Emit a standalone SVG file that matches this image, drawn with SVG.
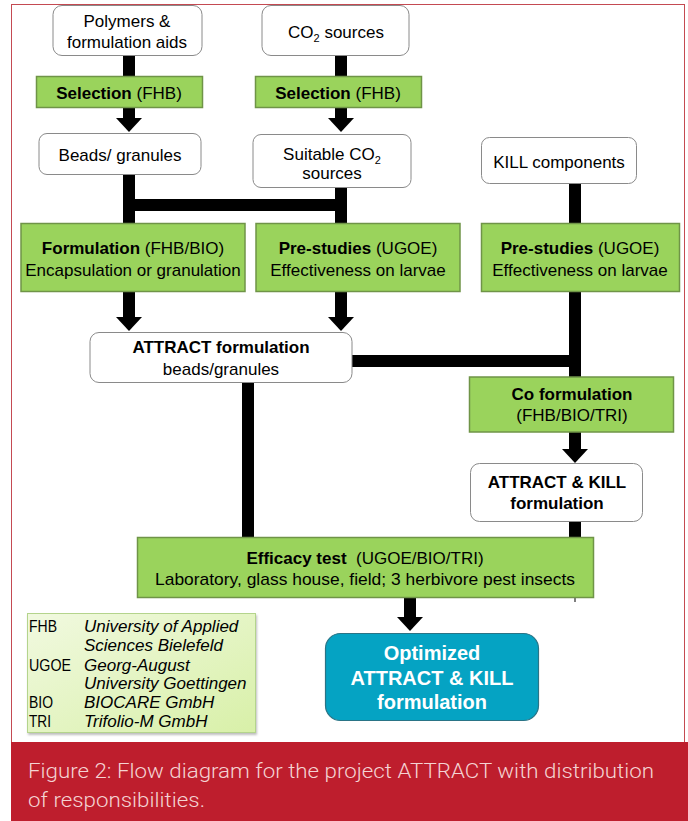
<svg xmlns="http://www.w3.org/2000/svg" width="688" height="821" viewBox="0 0 688 821">
<style>
text{font-family:"Liberation Sans",Arial,Helvetica,sans-serif;font-size:17px;fill:#000;text-anchor:middle}
.b{font-weight:bold}
.box{fill:#fff;stroke:#8a8a8a;stroke-width:1}
.grn{fill:#9ad35c;stroke:#6f9447;stroke-width:1.5}
.con{fill:none;stroke:#000;stroke-width:12}
.leg{text-anchor:start}
.it{font-style:italic}
.opt{fill:#fff;font-weight:bold;font-size:20px}
.cap{font-family:Roboto,"Liberation Sans",sans-serif;font-weight:300;font-size:21px;fill:#f4d3d3;text-anchor:start}
</style>
<defs>
<marker id="ah" markerUnits="userSpaceOnUse" markerWidth="14" markerHeight="26" viewBox="0 0 14 26" refX="0" refY="13" orient="auto">
<path d="M0,0 L14,13 L0,26 Z" fill="#000"/>
</marker>
<linearGradient id="lg" x1="0" y1="0" x2="1" y2="1">
<stop offset="0" stop-color="#f1f9e0"/>
<stop offset="1" stop-color="#d8f0a8"/>
</linearGradient>
<filter id="sh" x="-5%" y="-5%" width="115%" height="120%">
<feDropShadow dx="1" dy="2" stdDeviation="1.2" flood-color="#000" flood-opacity="0.25"/>
</filter>
</defs>
<rect x="0" y="0" width="688" height="821" fill="#fff"/>
<rect x="11.5" y="4.5" width="673" height="738" fill="#fff" stroke="#c44a52" stroke-width="1"/>

<g id="connectors">
<path class="con" d="M129,55 V118" marker-end="url(#ah)"/>
<path class="con" d="M341,55 V118" marker-end="url(#ah)"/>
<path class="con" d="M129,174 V317" marker-end="url(#ah)"/>
<path class="con" d="M123,205 H347"/>
<path class="con" d="M341,187 V317" marker-end="url(#ah)"/>
<path class="con" d="M575,183 V377"/>
<path class="con" d="M352,361 H581"/>
<path class="con" d="M575,432 V449" marker-end="url(#ah)"/>
<path class="con" d="M575,522 V538"/>
<path class="con" d="M248,383 V538"/>
<path class="con" d="M410,597 V617" marker-end="url(#ah)"/>
<path d="M575,597 V602" stroke="#555" stroke-width="1.5"/>
</g>

<g id="polymers">
<rect class="box" x="53" y="5.5" width="149" height="50" rx="9"/>
<text x="127" y="27">Polymers &amp;</text>
<text x="127" y="48">formulation aids</text>
</g>
<g id="co2-sources">
<rect class="box" x="262" y="5.5" width="147" height="50" rx="9"/>
<text x="336" y="38">CO<tspan font-size="11" dy="4">2</tspan><tspan dy="-4"> sources</tspan></text>
</g>
<g id="selection-left">
<rect class="grn" x="36.5" y="76.5" width="166" height="31"/>
<text x="119" y="99"><tspan class="b">Selection</tspan> (FHB)</text>
</g>
<g id="selection-right">
<rect class="grn" x="255.5" y="76.5" width="166" height="31"/>
<text x="338" y="99"><tspan class="b">Selection</tspan> (FHB)</text>
</g>
<g id="beads">
<rect class="box" x="39" y="133.5" width="162" height="41" rx="8"/>
<text x="120" y="161">Beads/ granules</text>
</g>
<g id="suitable-co2">
<rect class="box" x="253" y="134.5" width="158" height="53" rx="8"/>
<text x="332" y="160">Suitable CO<tspan font-size="11" dy="4">2</tspan></text>
<text x="332" y="179">sources</text>
</g>
<g id="kill-components">
<rect class="box" x="481.5" y="137.5" width="155" height="46" rx="8"/>
<text x="559" y="168">KILL components</text>
</g>
<g id="formulation">
<rect class="grn" x="21" y="223.5" width="224" height="68"/>
<text x="133" y="254"><tspan class="b">Formulation</tspan> (FHB/BIO)</text>
<text x="133" y="276">Encapsulation or granulation</text>
</g>
<g id="prestudies-middle">
<rect class="grn" x="256" y="223.5" width="204" height="68"/>
<text x="358" y="254"><tspan class="b">Pre-studies</tspan> (UGOE)</text>
<text x="358" y="276">Effectiveness on larvae</text>
</g>
<g id="prestudies-right">
<rect class="grn" x="481.5" y="223.5" width="198" height="68"/>
<text x="580" y="254"><tspan class="b">Pre-studies</tspan> (UGOE)</text>
<text x="580" y="276">Effectiveness on larvae</text>
</g>
<g id="attract-formulation">
<rect class="box" x="90" y="332.5" width="262" height="50" rx="9"/>
<text class="b" x="221" y="353">ATTRACT formulation</text>
<text x="221" y="375">beads/granules</text>
</g>
<g id="co-formulation">
<rect class="grn" x="469.5" y="377" width="204" height="55"/>
<text class="b" x="572" y="400">Co formulation</text>
<text x="572" y="421">(FHB/BIO/TRI)</text>
</g>
<g id="attract-kill">
<rect class="box" x="470.5" y="463.5" width="172" height="58" rx="9"/>
<text class="b" x="557" y="488">ATTRACT &amp; KILL</text>
<text class="b" x="557" y="509">formulation</text>
</g>
<g id="efficacy-test">
<rect class="grn" x="137.5" y="537.5" width="456" height="60"/>
<text x="365" y="564" style="white-space:pre"><tspan class="b">Efficacy test</tspan>  (UGOE/BIO/TRI)</text>
<text x="365" y="585" textLength="420" lengthAdjust="spacingAndGlyphs">Laboratory, glass house, field; 3 herbivore pest insects</text>
</g>
<g id="optimized">
<rect x="325.5" y="633.5" width="213" height="87" rx="15" fill="#05a3c3" stroke="#2a7486" stroke-width="1.2"/>
<text class="opt" x="432" y="660">Optimized</text>
<text class="opt" x="432" y="685">ATTRACT &amp; KILL</text>
<text class="opt" x="432" y="709">formulation</text>
</g>
<g id="legend">
<rect x="27.5" y="613.5" width="228" height="119" fill="url(#lg)" stroke="#b4d48c" stroke-width="1" filter="url(#sh)"/>
<text class="leg" x="29" y="632" textLength="28" lengthAdjust="spacingAndGlyphs">FHB</text>
<text class="leg it" x="84" y="632">University of Applied</text>
<text class="leg it" x="84" y="651">Sciences Bielefeld</text>
<text class="leg" x="29" y="671" textLength="42" lengthAdjust="spacingAndGlyphs">UGOE</text>
<text class="leg it" x="84" y="671">Georg-August</text>
<text class="leg it" x="84" y="689">University Goettingen</text>
<text class="leg" x="29" y="708" textLength="24" lengthAdjust="spacingAndGlyphs">BIO</text>
<text class="leg it" x="84" y="708">BIOCARE GmbH</text>
<text class="leg" x="29" y="727" textLength="22" lengthAdjust="spacingAndGlyphs">TRI</text>
<text class="leg it" x="84" y="727">Trifolio-M GmbH</text>
</g>

<g id="caption">
<rect x="11" y="742" width="677" height="79" fill="#be1e2d"/>
<text class="cap" x="28" y="778" textLength="626" lengthAdjust="spacingAndGlyphs">Figure 2: Flow diagram for the project ATTRACT with distribution</text>
<text class="cap" x="28" y="807" textLength="177" lengthAdjust="spacingAndGlyphs">of responsibilities.</text>
</g>
</svg>
